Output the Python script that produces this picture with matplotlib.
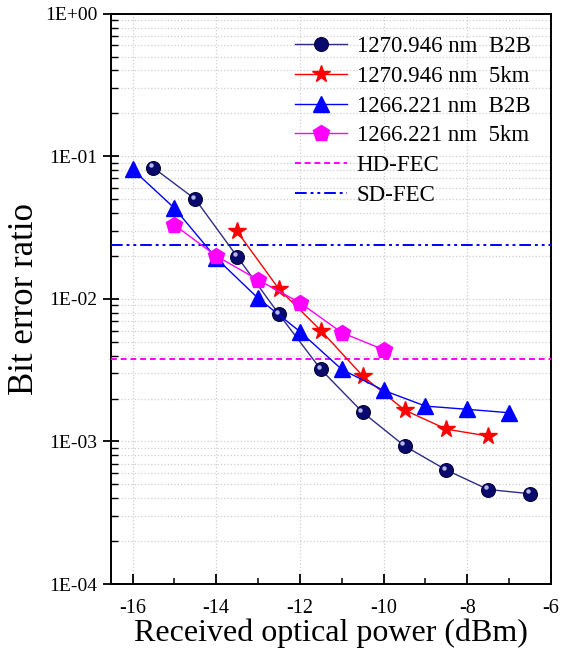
import numpy as np
import matplotlib
matplotlib.use("Agg")
import matplotlib.pyplot as plt
from matplotlib.ticker import FuncFormatter, LogLocator, MultipleLocator, NullFormatter
from matplotlib.transforms import offset_copy

plt.rcParams["font.family"] = ["Liberation Serif", "DejaVu Serif"]
plt.rcParams["axes.unicode_minus"] = False

# data
x_b2b_1270 = [-15.5, -14.5, -13.5, -12.5, -11.5, -10.5, -9.5, -8.5, -7.5, -6.5]
y_b2b_1270 = [0.083, 0.050, 0.0198, 0.0078, 0.0032, 0.00160, 0.00093, 0.00063, 0.00046, 0.00043]
x_5km_1270 = [-13.5, -12.5, -11.5, -10.5, -9.5, -8.5, -7.5]
y_5km_1270 = [0.0297, 0.0117, 0.0060, 0.00288, 0.00166, 0.00122, 0.00109]
x_b2b_1266 = [-16, -15, -14, -13, -12, -11, -10, -9, -8, -7]
y_b2b_1266 = [0.081, 0.0433, 0.0193, 0.0101, 0.0059, 0.0032, 0.00228, 0.00177, 0.00168, 0.00159]
x_5km_1266 = [-15, -14, -13, -12, -11, -10]
y_5km_1266 = [0.033, 0.020, 0.0136, 0.0094, 0.0058, 0.0044]
hd_fec = 3.8e-3
sd_fec = 2.4e-2

NAVY, RED, BLUE, MAG = "#0a0a6e", "#ff0000", "#0000ff", "#ff00ff"

fig = plt.figure(figsize=(5.71, 6.54), dpi=100)
ax = fig.add_axes([0.194, 0.107, 0.771, 0.872])

ax.plot(x_b2b_1270, y_b2b_1270, "-", color="#2d2d85", lw=1.0, marker="o", ms=10,
        mfc=NAVY, mec="#05053a", mew=0.8, label="1270.946 nm  B2B", zorder=4)
# highlight to mimic the shaded sphere markers
hl = offset_copy(ax.transData, fig=fig, x=-1.6, y=1.8, units="points")
ax.plot(x_b2b_1270, y_b2b_1270, "o", ms=3.2, color="#b8b8e8", mec="none",
        transform=hl, zorder=5)
ax.plot(x_5km_1270, y_5km_1270, "-", color=RED, lw=1.0, marker="*", ms=13,
        mfc=RED, mec=RED, label="1270.946 nm  5km", zorder=4)
ax.plot(x_b2b_1266, y_b2b_1266, "-", color=BLUE, lw=1.0, marker="^", ms=11,
        mfc=BLUE, mec=BLUE, label="1266.221 nm  B2B", zorder=4)
ax.plot(x_5km_1266, y_5km_1266, "-", color=MAG, lw=1.0, marker="p", ms=12,
        mfc=MAG, mec=MAG, label="1266.221 nm  5km", zorder=4)
ax.axhline(hd_fec, color=MAG, lw=1.4, ls=(0, (3, 2)), label="HD-FEC", zorder=3)
ax.axhline(sd_fec, color=BLUE, lw=1.4, ls=(0, (6, 2, 1.5, 2, 1.5, 2)), label="SD-FEC", zorder=3)

ax.set_yscale("log")
ax.set_ylim(1e-4, 1)
ax.set_xlim(-16.52, -6)
ax.xaxis.set_major_locator(MultipleLocator(2))
ax.xaxis.set_minor_locator(MultipleLocator(1))
ax.yaxis.set_major_locator(LogLocator(base=10, numticks=10))
ax.yaxis.set_minor_locator(LogLocator(base=10, subs=np.arange(2, 10), numticks=10))
ax.yaxis.set_minor_formatter(NullFormatter())
ax.yaxis.set_major_formatter(FuncFormatter(lambda v, p: f"1E{int(round(np.log10(v))):+03d}"))

ax.grid(True, which="major", axis="x", color="#cfcfcf", ls=":", lw=0.9)
ax.grid(True, which="both", axis="y", color="#cfcfcf", ls=":", lw=0.9)
ax.set_axisbelow(True)

ax.tick_params(axis="x", which="major", direction="in", length=7, width=1.3, labelsize=14.5, pad=11)
ax.tick_params(axis="x", which="minor", direction="in", length=4, width=1.1)
ax.tick_params(axis="y", which="major", direction="inout", length=12, width=1.3, labelsize=14)
ax.tick_params(axis="y", which="minor", direction="in", length=5, width=1.0)
for s in ax.spines.values():
    s.set_linewidth(1.4)

ax.set_xlabel("Received optical power (dBm)", fontsize=23, labelpad=0)
ax.set_ylabel("Bit error ratio", fontsize=25, labelpad=3)

ax.legend(loc="upper right", bbox_to_anchor=(0.985, 0.985), frameon=False, fontsize=16.5,
          handlelength=2.3, handletextpad=0.4, labelspacing=0.38, borderaxespad=0.2)

fig.savefig("out.png", dpi=100)
